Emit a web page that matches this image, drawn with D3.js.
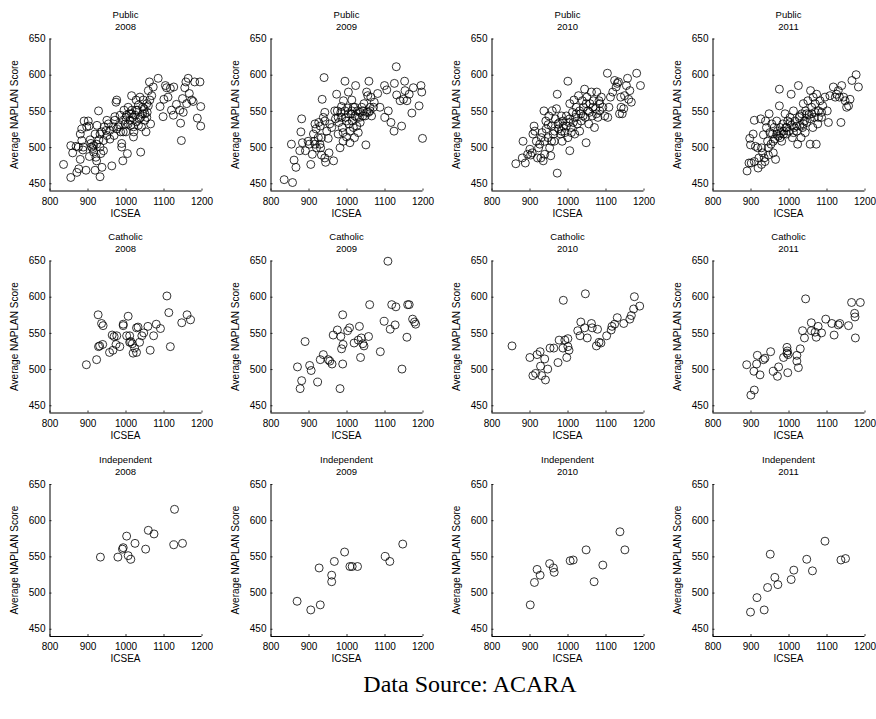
<!DOCTYPE html>
<html>
<head>
<meta charset="utf-8">
<script src="https://cdn.jsdelivr.net/npm/d3@7"></script>
<style>
  html, body { margin: 0; padding: 0; background: #fff; }
  svg { display: block; }
  text { font-family: "Liberation Sans", Arial, Helvetica, sans-serif; fill: #000; }
</style>
</head>
<body>
<svg id="chart" width="876" height="719"></svg>
<script>
// ---------------- DATA ----------------
const sectors = ["Public", "Catholic", "Independent"];
const years = ["2008", "2009", "2010", "2011"];
const xTicks = [800, 900, 1000, 1100, 1200];
const yTicks = [450, 500, 550, 600, 650];
const xLabel = "ICSEA";
const yLabel = "Average NAPLAN Score";
const sourceText = "Data Source: ACARA";

// [ICSEA, Average NAPLAN Score]
const public2008 = [
[837,476],[856,458],[856,502],[861,492],[870,501],[872,465],[877,470],[881,483],[876,500],[885,509],
[881,518],[885,525],[891,536],[896,468],[902,536],[904,529],[907,510],[909,505],[911,500],[914,498],
[916,493],[920,518],[922,486],[924,481],[925,530],[929,550],[930,510],[933,500],[935,491],[937,521],
[933,459],[938,472],[942,509],[944,528],[949,523],[951,516],[955,532],[959,523],[964,474],[968,528],
[970,516],[972,537],[975,562],[977,565],[981,528],[986,544],[987,521],[990,505],[990,500],[993,481],
[994,537],[996,551],[999,532],[1001,521],[1003,544],[1005,491],[1007,555],[1010,546],[1012,537],[1014,530],
[1016,571],[1017,551],[1019,541],[1021,514],[1022,521],[1025,544],[1028,565],[1029,535],[1031,551],[1034,558],
[1036,539],[1038,569],[1040,493],[1042,528],[1045,546],[1047,565],[1049,553],[1051,537],[1054,521],[1056,560],
[1057,548],[1060,578],[1063,590],[1064,565],[1066,532],[1069,571],[1073,583],[1086,595],[1091,556],[1099,542],
[1101,566],[1105,585],[1108,582],[1112,569],[1118,581],[1121,551],[1126,544],[1127,583],[1134,559],[1143,551],
[1145,533],[1147,509],[1150,567],[1152,548],[1156,582],[1159,590],[1161,560],[1165,595],[1168,574],[1174,565],
[1178,563],[1182,590],[1189,540],[1196,590],[1198,556],[1198,529],
[951,537],[959,511],[972,542],[977,525],[984,531],[994,521],[1001,541],[1007,532],[1016,546],[1021,528],
[1028,551],[1034,530],[1040,541],[1045,555],[1051,546],[1056,541],[1060,557],[933,518],[942,495],[916,502],
[924,504],[898,528],[888,496],[889,500],[905,487],[920,468]
];
const public2009 = [
[836,455],[858,451],[855,504],[862,482],[867,472],[882,539],[880,521],[877,495],[884,506],[892,495],
[899,508],[902,504],[906,476],[910,490],[913,518],[915,508],[920,525],[921,499],[926,513],[927,534],
[931,529],[930,504],[932,499],[934,489],[936,566],[939,541],[941,596],[943,548],[943,485],[945,479],
[948,522],[952,512],[954,492],[961,527],[966,481],[971,539],[974,573],[976,550],[978,518],[980,534],
[983,499],[985,548],[987,556],[989,527],[992,564],[996,591],[998,541],[1000,514],[1003,554],[1005,576],
[1006,532],[1009,506],[1012,546],[1014,565],[1015,536],[1018,555],[1021,513],[1022,543],[1024,585],[1027,529],
[1029,550],[1031,520],[1034,541],[1036,534],[1040,555],[1043,543],[1046,560],[1051,503],[1053,576],[1056,571],
[1058,548],[1059,591],[1062,555],[1066,543],[1073,562],[1082,574],[1088,555],[1100,585],[1101,541],[1106,579],
[1110,550],[1117,534],[1125,522],[1126,588],[1131,611],[1132,572],[1141,564],[1145,529],[1150,566],[1153,591],
[1154,578],[1159,564],[1165,573],[1172,547],[1176,582],[1191,557],[1196,585],[1198,576],[1200,512],
[996,550],[1005,546],[1014,550],[1022,555],[1027,541],[1036,548],[1044,550],[1049,543],[1053,548],[987,541],
[978,541],[969,550],[956,532],[943,536],[934,513],[917,504],[917,532],[1018,527],[1009,522],[1000,536],
[991,520],[1062,550],[1064,569],[1071,555],[991,508]
];
const public2010 = [
[864,477],[883,508],[881,485],[889,478],[895,490],[901,497],[903,489],[907,492],[909,518],[912,529],
[914,522],[918,508],[921,485],[924,499],[927,504],[930,485],[931,513],[933,520],[936,481],[938,550],
[940,490],[943,536],[944,525],[949,513],[951,543],[953,499],[956,488],[958,529],[960,550],[963,518],
[965,508],[968,539],[971,553],[973,573],[973,464],[977,525],[979,534],[982,518],[984,543],[986,508],
[989,529],[993,520],[997,543],[1001,591],[1003,534],[1006,495],[1006,560],[1010,527],[1013,548],[1017,565],
[1019,518],[1021,541],[1023,555],[1026,532],[1029,571],[1032,522],[1035,546],[1036,536],[1039,564],[1042,555],
[1045,580],[1047,541],[1049,506],[1051,569],[1054,550],[1056,532],[1059,560],[1063,576],[1065,543],[1068,564],
[1071,527],[1074,553],[1077,576],[1080,541],[1083,564],[1085,550],[1089,569],[1093,555],[1098,543],[1105,602],
[1106,541],[1109,555],[1113,569],[1119,576],[1124,592],[1128,583],[1131,588],[1134,590],[1137,546],[1140,569],
[1141,555],[1144,546],[1148,553],[1150,571],[1155,585],[1158,595],[1161,566],[1164,578],[1168,562],[1182,602],
[1192,585],
[949,531],[966,522],[975,532],[988,536],[997,529],[1006,539],[1015,534],[1023,546],[1032,550],[1041,543],
[1049,560],[1058,548],[1067,555],[1076,546],[1085,560],[958,508],[940,508],[984,522],[1001,513],[1010,520]
];
const public2011 = [
[891,467],[896,478],[898,512],[902,478],[900,503],[907,518],[910,537],[913,501],[919,499],[922,485],
[927,539],[929,499],[932,492],[934,517],[936,485],[938,480],[940,536],[942,527],[945,508],[947,489],
[949,546],[951,520],[954,504],[956,532],[958,518],[960,492],[963,527],[964,511],[966,483],[969,536],
[971,522],[973,515],[976,580],[976,557],[978,527],[980,520],[982,508],[985,532],[987,518],[991,546],
[993,527],[995,518],[998,536],[1001,522],[1004,541],[1007,573],[1008,530],[1010,513],[1013,550],[1015,527],
[1017,536],[1022,522],[1024,504],[1026,585],[1028,541],[1030,530],[1033,513],[1035,546],[1037,527],[1039,560],
[1042,536],[1044,520],[1045,550],[1048,534],[1051,564],[1054,545],[1057,504],[1058,578],[1061,555],[1064,527],
[1065,569],[1068,541],[1070,560],[1073,504],[1074,573],[1077,532],[1079,550],[1083,564],[1087,541],[1090,557],
[1096,569],[1102,550],[1105,534],[1109,571],[1118,583],[1123,569],[1127,573],[1131,578],[1134,569],[1138,534],
[1140,585],[1145,569],[1149,564],[1153,555],[1158,557],[1162,566],[1167,592],[1178,600],[1184,583],
[969,518],[978,513],[987,522],[995,527],[1004,534],[1013,520],[1022,529],[1030,543],[1039,532],[1048,546],
[1057,539],[960,508],[947,499],[920,471],[910,480],[929,476],[1061,546],[1070,548],[1079,541],[1087,548]
];
const catholic2008 = [
[897,506],[924,513],[928,575],[937,563],[941,560],[929,531],[932,532],[940,534],[958,523],[967,526],
[965,547],[970,545],[977,546],[975,534],[985,531],[994,562],[994,560],[1007,573],[1003,546],[1011,546],
[1014,538],[1011,537],[1018,535],[1020,522],[1029,523],[1024,529],[1029,557],[1033,558],[1037,537],[1043,546],
[1048,550],[1059,559],[1065,526],[1074,546],[1081,562],[1092,556],[1109,601],[1114,578],[1118,531],[1148,564],
[1162,575],[1171,568]
];
const catholic2009 = [
[871,503],[882,484],[878,473],[891,538],[903,505],[907,498],[924,482],[931,513],[939,520],[952,513],
[956,511],[962,507],[965,547],[976,554],[985,545],[987,528],[991,534],[990,575],[990,507],[983,473],
[1003,553],[1008,557],[1020,536],[1031,540],[1034,559],[1037,516],[1039,543],[1043,535],[1046,532],[1058,545],
[1061,589],[1089,524],[1099,566],[1109,649],[1115,555],[1119,589],[1130,586],[1128,561],[1146,500],[1159,544],
[1161,589],[1165,589],[1174,569],[1179,565],[1182,562]
];
const catholic2010 = [
[854,532],[901,516],[909,491],[916,494],[920,520],[928,524],[929,504],[932,491],[940,514],[942,485],
[948,500],[954,529],[964,529],[975,509],[978,540],[989,595],[988,529],[993,540],[998,516],[1001,542],
[1001,531],[1004,526],[1027,553],[1035,565],[1033,546],[1045,557],[1047,604],[1052,543],[1063,563],[1065,557],
[1076,532],[1079,555],[1083,537],[1088,536],[1103,546],[1115,554],[1117,559],[1124,562],[1131,571],[1148,563],
[1164,569],[1168,574],[1174,583],[1176,600],[1190,587]
];
const catholic2011 = [
[890,506],[901,464],[910,471],[909,497],[916,507],[918,519],[925,492],[934,513],[938,515],[953,524],
[960,497],[971,490],[974,503],[987,516],[996,530],[997,525],[996,522],[999,520],[998,495],[1022,519],
[1022,511],[1026,502],[1031,528],[1037,553],[1042,543],[1045,597],[1060,564],[1060,553],[1070,551],[1073,544],
[1078,559],[1087,550],[1098,569],[1114,563],[1120,547],[1131,561],[1135,563],[1158,560],[1166,592],[1174,577],
[1175,572],[1176,543],[1189,592]
];
const independent2008 = [
[934,549],[980,549],[994,562],[992,560],[1003,578],[1007,551],[1014,546],[1025,568],[1053,560],[1060,586],
[1075,581],[1127,566],[1129,615],[1150,568]
];
const independent2009 = [
[870,488],[906,476],[931,483],[928,534],[961,524],[961,515],[968,543],[995,556],[1009,536],[1015,536],
[1029,536],[1102,550],[1114,543],[1148,567]
];
const independent2010 = [
[902,483],[913,514],[920,532],[928,524],[953,540],[963,534],[965,528],[1007,544],[1015,545],[1049,559],
[1070,515],[1093,538],[1138,584],[1151,559]
];
const independent2011 = [
[900,473],[917,493],[936,476],[945,507],[952,553],[964,521],[972,511],[1007,518],[1014,531],[1048,546],
[1063,530],[1096,571],[1138,545],[1150,547]
];

const panelData = [
  [public2008, public2009, public2010, public2011],
  [catholic2008, catholic2009, catholic2010, catholic2011],
  [independent2008, independent2009, independent2010, independent2011]
];

// ---------------- LAYOUT ----------------
const colLeft = [49.5, 270.5, 491.5, 712.5];
const rowTop = [38.5, 260.5, 484];
const plotW = 152, plotH = 152;

const svg = d3.select("#chart");

const x = d3.scaleLinear().domain([800, 1200]).range([0, plotW]);
const y = d3.scaleLinear().domain([440, 650]).range([plotH, 0]);

sectors.forEach((sector, r) => {
  years.forEach((year, c) => {
    const g = svg.append("g").attr("transform", `translate(${colLeft[c]},${rowTop[r]})`);

    // axes
    const xAxis = d3.axisBottom(x).tickValues(xTicks).tickSize(-2).tickPadding(5).tickFormat(d3.format("d"));
    const yAxis = d3.axisLeft(y).tickValues(yTicks).tickSize(-2).tickPadding(4).tickFormat(d3.format("d"));

    const gx = g.append("g").attr("transform", `translate(0,${plotH})`).call(xAxis);
    const gy = g.append("g").call(yAxis);
    [gx, gy].forEach(a => {
      a.select(".domain").attr("stroke", "#000").attr("stroke-width", 1);
      a.selectAll(".tick line").attr("stroke", "#000").attr("stroke-width", 0.8);
      a.selectAll(".tick text").attr("font-size", 10).attr("fill", "#000")
        .attr("font-family", '"Liberation Sans", Arial, sans-serif');
    });
    gx.select(".domain").attr("d", `M0,0.5H${plotW}`);
    gy.select(".domain").attr("d", `M0.5,0V${plotH}`);
    gx.selectAll(".tick text").attr("dy", "0.9em");

    // points
    g.append("g").selectAll("circle")
      .data(panelData[r][c])
      .join("circle")
      .attr("cx", d => x(d[0]))
      .attr("cy", d => y(d[1]))
      .attr("r", 4)
      .attr("fill", "none")
      .attr("stroke", "#000")
      .attr("stroke-width", 0.8);

    // title
    const t = g.append("text")
      .attr("x", plotW / 2)
      .attr("text-anchor", "middle")
      .attr("font-size", 9.5);
    t.append("tspan").attr("x", plotW / 2).attr("y", -21).text(sector);
    t.append("tspan").attr("x", plotW / 2).attr("y", -9).text(year);

    // axis labels
    g.append("text")
      .attr("x", plotW / 2)
      .attr("y", plotH + 26)
      .attr("text-anchor", "middle")
      .attr("font-size", 10)
      .text(xLabel);
    g.append("text")
      .attr("transform", `translate(-32,${plotH / 2}) rotate(-90)`)
      .attr("text-anchor", "middle")
      .attr("font-size", 10)
      .text(yLabel);
  });
});

svg.append("text")
  .attr("x", 470)
  .attr("y", 692)
  .attr("text-anchor", "middle")
  .attr("font-size", 24)
  .style("font-family", '"Liberation Serif", "Times New Roman", serif')
  .text(sourceText);
</script>
</body>
</html>
